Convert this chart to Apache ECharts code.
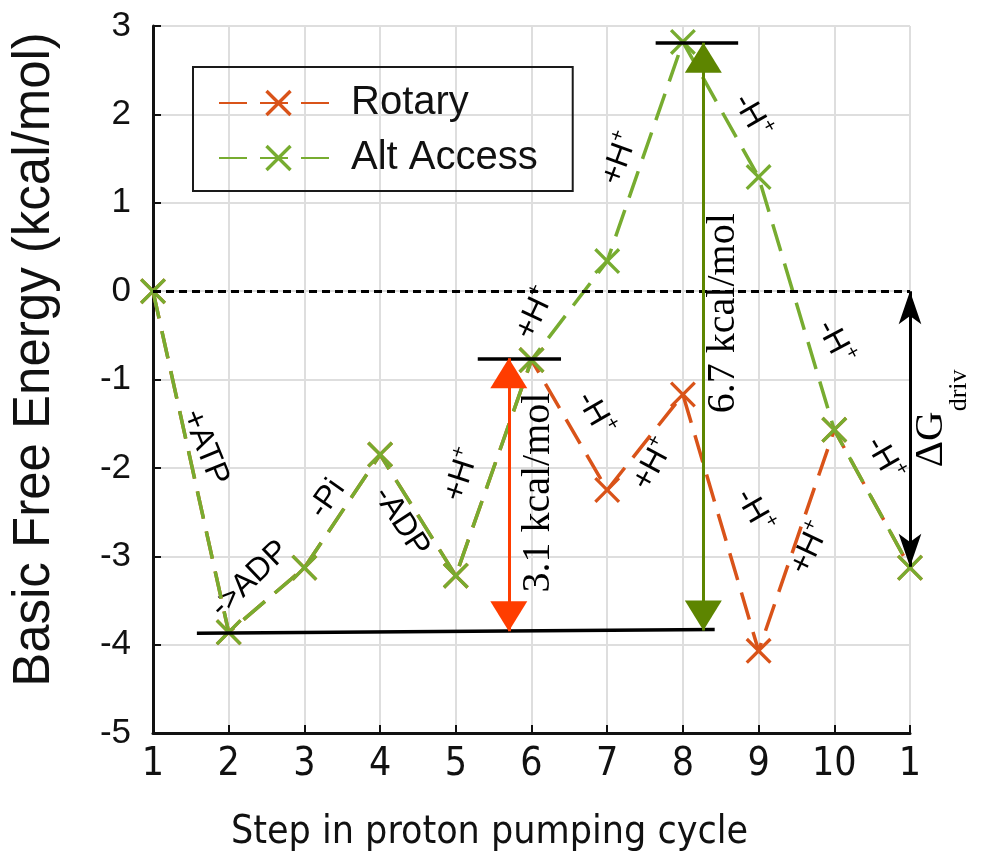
<!DOCTYPE html>
<html>
<head>
<meta charset="utf-8">
<script src="https://cdn.jsdelivr.net/npm/echarts@6/dist/echarts.min.js"></script>
<style>
html, body { margin: 0; padding: 0; background: #fff; }
#chart { width: 981px; height: 857px; }
</style>
</head>
<body>
<div id="chart"></div>
<script>
var stepLabels = ['1', '2', '3', '4', '5', '6', '7', '8', '9', '10', '1'];
var rotary = [0, -3.86, -3.13, -1.85, -3.22, -0.78, -2.25, -1.17, -4.07, -1.57, -3.13];
var altAccess = [0, -3.86, -3.13, -1.85, -3.22, -0.78, 0.34, 2.82, 1.29, -1.57, -3.13];

// annotations: x (step index), y (kcal/mol), text, angle
var notes = [
    [0.69, -1.77, '{m|+ATP}', -68],
    [1.28, -3.26, '{m|->ADP}', 44],
    [2.30, -2.35, '{m|-Pi}', 55],
    [3.28, -2.61, '{m|-ADP}', -57],
    [4.08, -2.08, '{m|+H}{p|+}', 72],
    [5.05, -0.25, '{m|+H}{p|+}', 65],
    [6.17, 1.50, '{m|+H}{p|+}', 70],
    [7.91, 1.98, '{m|-H}{p|+}', -60],
    [9.01, -0.58, '{m|-H}{p|+}', -62],
    [9.66, -1.90, '{m|-H}{p|+}', -60],
    [5.84, -1.39, '{m|-H}{p|+}', -60],
    [6.61, -1.96, '{m|+H}{p|+}', 62],
    [7.94, -2.49, '{m|-H}{p|+}', -60],
    [8.68, -2.91, '{m|+H}{p|+}', 65],
    [5.09, -2.28, '{k|3.1 kcal/mol}', 90],
    [7.54, -0.25, '{k|6.7 kcal/mol}', 90],
    [10.28, -1.44, '{d|ΔG}{s|driv}', 90]
];

// reference levels
var baseLevel = [[0.58, -3.87], [7.42, -3.83]];
var rotaryTop = [[4.29, -0.76], [5.39, -0.76]];
var altTop = [[6.64, 2.81], [7.73, 2.81]];
var rotaryArrow = [[4.70, -3.85], [4.70, -0.76]];
var altArrow = [[7.27, -3.84], [7.27, 2.81]];
var drivArrow = [[10, 0], [10, -3.12]];

var green = '#77AC30';
var orange = '#D95319';
var xMark = 'path://M0,9L9,0L50,41L91,0L100,9L59,50L100,91L91,100L50,59L9,100L0,91L41,50Z';
var sans = 'Liberation Sans';
var serif = 'Liberation Serif';
var condensed = "'DejaVu Sans Condensed', 'Liberation Sans Narrow', 'DejaVu Sans'";

function toPairs(arr) {
    return arr.map(function(v, i) { return [i, v]; });
}

function plainLine(pts, style) {
    return [{ coord: pts[0], lineStyle: style }, { coord: pts[1] }];
}

function arrowLine(pts, color, shape, size, offset) {
    var end = { symbol: shape, symbolSize: size, symbolOffset: offset };
    return [
        Object.assign({ coord: pts[0], lineStyle: { color: color, width: 3, type: 'solid' } }, end),
        Object.assign({ coord: pts[1] }, end)
    ];
}

var chart = echarts.init(document.getElementById('chart'));

var option = {
    animation: false,
    grid: { left: 153, right: 71, top: 26, bottom: 119 },
    legend: {
        data: ['Rotary', 'Alt Access'],
        orient: 'vertical',
        left: 193,
        top: 67,
        itemWidth: 119,
        itemHeight: 33,
        itemGap: 15,
        padding: [16, 35, 13, 25],
        borderColor: '#1a1a1a',
        borderWidth: 2,
        selectedMode: false,
        textStyle: { fontSize: 40, fontFamily: sans, color: '#111', padding: [0, 0, 0, 8] }
    },
    xAxis: {
        type: 'value',
        min: 0,
        max: 10,
        interval: 1,
        name: 'Step in proton pumping cycle',
        nameLocation: 'middle',
        nameGap: 80,
        nameTextStyle: { fontSize: 39, fontFamily: condensed, color: '#111', padding: [0, 84, 0, 0] },
        axisLine: { onZero: false, lineStyle: { color: '#111', width: 3 } },
        axisTick: { inside: true, length: 8, lineStyle: { color: '#111', width: 2 } },
        axisLabel: {
            margin: 12,
            fontSize: 39,
            fontFamily: condensed,
            color: '#111',
            formatter: function(v) { return stepLabels[v]; }
        },
        splitLine: { show: true, lineStyle: { color: '#dedede', width: 2 } }
    },
    yAxis: {
        type: 'value',
        min: -5,
        max: 3,
        interval: 1,
        name: 'Basic Free Energy (kcal/mol)',
        nameLocation: 'middle',
        nameGap: 93,
        nameTextStyle: { fontSize: 51, fontFamily: sans, color: '#111', padding: [0, 0, 0, 40] },
        axisLine: { show: true, onZero: false, lineStyle: { color: '#111', width: 3 } },
        axisTick: { show: true, inside: true, length: 8, lineStyle: { color: '#111', width: 2 } },
        axisLabel: { margin: 22, fontSize: 35, fontFamily: sans, color: '#111' },
        splitLine: { show: true, lineStyle: { color: '#dedede', width: 2 } }
    },
    series: [
        {
            name: 'Rotary',
            type: 'line',
            data: toPairs(rotary),
            symbol: xMark,
            symbolSize: 26,
            itemStyle: { color: orange },
            lineStyle: { color: orange, width: 3.5, type: [28, 13] },
            markLine: {
                silent: true,
                symbol: 'none',
                label: { show: false },
                lineStyle: { color: '#000', width: 3, type: [8, 5] },
                data: [{ yAxis: 0 }]
            }
        },
        {
            name: 'Alt Access',
            type: 'line',
            data: toPairs(altAccess),
            symbol: xMark,
            symbolSize: 26,
            itemStyle: { color: green },
            lineStyle: { color: green, width: 3.5, type: [28, 13] }
        },
        {
            name: 'notes',
            type: 'scatter',
            clip: false,
            silent: true,
            symbolSize: 1,
            itemStyle: { color: 'transparent', opacity: 1 },
            data: notes.map(function(n) {
                return { value: [n[0], n[1]], text: n[2], label: { rotate: n[3] } };
            }),
            label: {
                show: true,
                position: 'inside',
                align: 'center',
                verticalAlign: 'middle',
                color: '#000',
                textBorderWidth: 0,
                opacity: 1,
                formatter: function(p) { return p.data.text; },
                rich: {
                    m: { fontSize: 32, fontFamily: sans, color: '#000' },
                    p: { fontSize: 20, fontFamily: sans, color: '#000', padding: [0, 0, 20, 0] },
                    k: { fontSize: 40, fontFamily: serif, color: '#000' },
                    d: { fontSize: 41, fontFamily: serif, color: '#000' },
                    s: { fontSize: 26, fontFamily: serif, color: '#000', padding: [56, 0, 0, 0] }
                }
            },
            markLine: {
                silent: true,
                symbol: 'none',
                label: { show: false },
                data: [
                    plainLine(baseLevel, { color: '#000', width: 3.5, type: 'solid' }),
                    plainLine(rotaryTop, { color: '#000', width: 3.5, type: 'solid' }),
                    plainLine(altTop, { color: '#000', width: 3.5, type: 'solid' }),
                    arrowLine(rotaryArrow, '#ff3d00', 'triangle', [37, 30], [0, '50%']),
                    arrowLine(altArrow, '#5d8500', 'triangle', [37, 30], [0, '50%']),
                    arrowLine(drivArrow, '#000', 'arrow', [17, 33], [0, 0])
                ]
            }
        }
    ]
};

chart.setOption(option);
</script>
</body>
</html>
